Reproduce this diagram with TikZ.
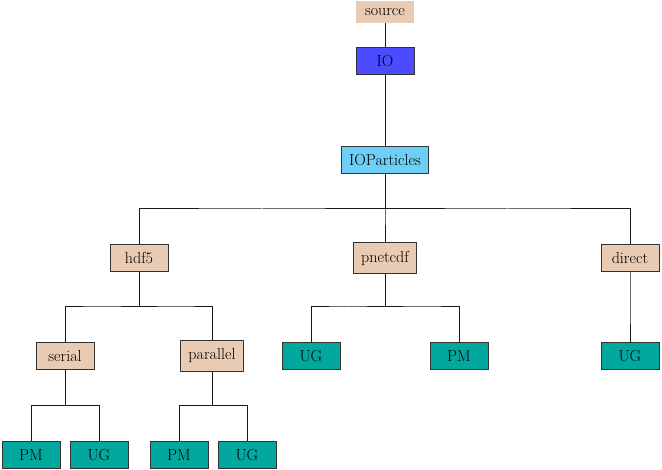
\documentclass[tikz,border=0pt]{standalone}
\usetikzlibrary{calc}
\definecolor{beige}{RGB}{233,202,178}
\definecolor{tealc}{RGB}{0,168,157}
\definecolor{bluec}{RGB}{75,75,255}
\definecolor{lightbluec}{RGB}{110,207,246}
\begin{document}
\begin{tikzpicture}[x=1pt,y=-1pt,
  box/.style={draw=black!80, line width=0.9pt, minimum width=58pt, minimum height=26pt, inner sep=8pt, font=\fontsize{16}{19}\selectfont},
  bbox/.style={box, fill=beige},
  tbox/.style={box, fill=tealc},
  conn/.style={line width=1pt, black!90}]
\useasboundingbox (0,0) rectangle (662,470);
\node[box, draw=none, fill=beige, minimum height=22pt, inner sep=4pt] (source) at (385,12) {source};
\node[box, fill=bluec] (io) at (385,61) {IO};
\node[box, fill=lightbluec] (iop) at (385,160) {IOParticles};
\node[bbox] (hdf5) at (139,258) {hdf5};
\node[bbox] (pnetcdf) at (385,258) {pnetcdf};
\node[bbox] (direct) at (630,258) {direct};
\node[bbox] (serial) at (65,356) {serial};
\node[bbox] (parallel) at (212,356) {parallel};
\node[tbox] (pug) at (311,356) {UG};
\node[tbox] (ppm) at (459,356) {PM};
\node[tbox] (dug) at (630,356) {UG};
\node[tbox] (spm) at (31,455) {PM};
\node[tbox] (sug) at (99,455) {UG};
\node[tbox] (ppm2) at (179,455) {PM};
\node[tbox] (pug2) at (247,455) {UG};
\draw[conn] (source) -- (io);
\draw[conn] (io) -- (iop);
\foreach \p/\c in {iop/hdf5, iop/pnetcdf, iop/direct, hdf5/serial, hdf5/parallel, pnetcdf/pug, pnetcdf/ppm, direct/dug, serial/spm, serial/sug, parallel/ppm2, parallel/pug2}
  \draw[conn] (\p.south) |- ($(\p)!0.5!(\c)$) -| (\c.north);
\end{tikzpicture}
\end{document}
